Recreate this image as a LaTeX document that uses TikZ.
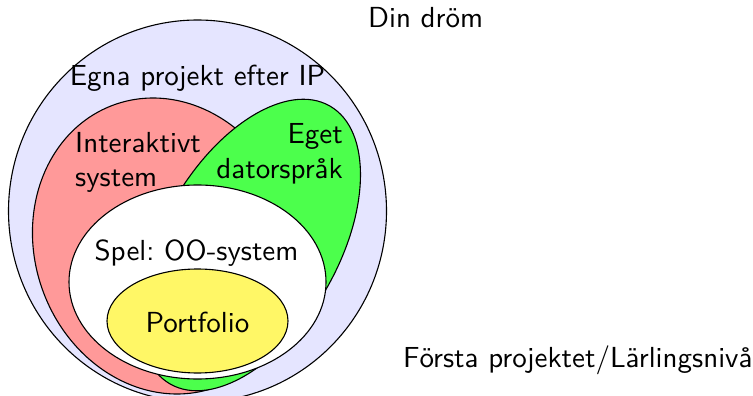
\documentclass[tikz,border=0pt]{standalone}
\usepackage{graphicx}
\frenchspacing
\newcommand{\bigsans}[1]{\scalebox{2.9}{\sffamily #1}}
\begin{document}
\begin{tikzpicture}[x=1pt, y=-1pt,
  region/.style={draw=black, line width=1.1pt},
  lbl/.style={inner sep=0pt}]
\useasboundingbox (0,0) rectangle (753,396);

% nested regions, largest first
\filldraw[region, fill=blue!10] (197.5,211) ellipse [x radius=189, y radius=191];
\filldraw[region, fill=red!40, rotate around={19.7:(165,246)}]
  (165,246) ellipse [x radius=130.1, y radius=150.1];
\filldraw[region, fill=green!70, rotate around={60.1:(250,245)}]
  (250,245) ellipse [x radius=160.3, y radius=88];
\filldraw[region, fill=white] (197.5,282) ellipse [x radius=128.5, y radius=97];
\filldraw[region, fill=yellow!60] (197.5,321) ellipse [x radius=90.5, y radius=52];

% labels
\node[lbl, anchor=base west] (dream) at (368,28) {\bigsans{Din dröm}};
\node[lbl, anchor=base west] (first) at (403,367) {\bigsans{Första projektet/Lärlingsnivå}};
\node[lbl, anchor=base] (own) at (197.5,86) {\bigsans{Egna projekt efter IP}};
\node[lbl, anchor=base west] (inter) at (75,152) {\bigsans{Interaktivt}};
\node[lbl, anchor=base west] (intersys) at (75,186) {\bigsans{system}};
\node[lbl, anchor=base east] (eget) at (343,143) {\bigsans{Eget}};
\node[lbl, anchor=base east] (dator) at (343,178) {\bigsans{datorspråk}};
\node[lbl, anchor=base] (spel) at (196.5,260) {\bigsans{Spel: OO-system}};
\node[lbl, anchor=base] (port) at (197.5,332) {\bigsans{Portfolio}};
\end{tikzpicture}
\end{document}
